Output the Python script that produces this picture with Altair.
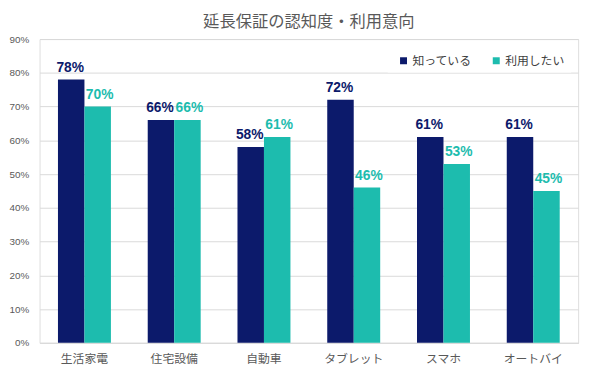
import altair as alt
import pandas as pd

categories = ["生活家電", "住宅設備", "自動車", "タブレット", "スマホ", "オートバイ"]
series = ["知っている", "利用したい"]
known = [78, 66, 58, 72, 61, 61]
want = [70, 66, 61, 46, 53, 45]
colors = ["#0c1a6b", "#1dbcae"]
y_ticks = [0, 10, 20, 30, 40, 50, 60, 70, 80, 90]

rows = []
for i, c in enumerate(categories):
    rows.append({"cat": c, "series": series[0], "value": known[i], "label": f"{known[i]}%"})
    rows.append({"cat": c, "series": series[1], "value": want[i], "label": f"{want[i]}%"})
df = pd.DataFrame(rows)

x = alt.X("cat:N", sort=categories, title=None,
          scale=alt.Scale(paddingInner=0.41, paddingOuter=0.205),
          axis=alt.Axis(labelAngle=0, labelFont="Noto Sans CJK JP", labelFontSize=12,
                        labelColor="#595959", labelPadding=11, ticks=False, domain=True,
                        domainColor="#d9d9d9", grid=False))
y = alt.Y("value:Q", title=None,
          scale=alt.Scale(domain=[0, 90], nice=False),
          axis=alt.Axis(values=y_ticks, labelExpr="datum.value + '%'", labelFont="Liberation Sans",
                        labelFontSize=10, labelColor="#595959", ticks=False, domain=False,
                        labelPadding=11, grid=True, gridColor="#d9d9d9", gridWidth=1))
xo = alt.XOffset("series:N", sort=series, scale=alt.Scale(paddingInner=0, paddingOuter=0))
color = alt.Color("series:N", sort=series, title=None,
                  scale=alt.Scale(domain=series, range=colors),
                  legend=alt.Legend(orient="none", legendX=353, legendY=10, direction="horizontal",
                                    fillColor="white", padding=6, symbolType="square",
                                    symbolSize=50, symbolStrokeWidth=0,
                                    labelFont="Noto Sans CJK JP", labelFontSize=12,
                                    labelColor="#404040", columnPadding=14, symbolOffset=4,
                                    labelOffset=3))

bars = alt.Chart(df).mark_bar().encode(x=x, y=y, xOffset=xo, color=color)
text_base = alt.Chart(df).encode(
    x=x, y=y, xOffset=xo, text="label:N",
    color=alt.Color("series:N", sort=series, scale=alt.Scale(domain=series, range=colors), legend=None))
text_known = text_base.transform_filter(alt.datum.series == series[0]).mark_text(
    dy=-12, dx=-1, font="Liberation Sans", fontWeight="bold", fontSize=14)
text_want = text_base.transform_filter(alt.datum.series == series[1]).mark_text(
    dy=-12, dx=2, font="Liberation Sans", fontWeight="bold", fontSize=14)

chart = (bars + text_known + text_want).properties(
    width=546, height=308,
    title=alt.TitleParams("延長保証の認知度・利用意向", font="Noto Sans CJK JP", fontSize=16.5,
                          fontWeight="normal", color="#595959", anchor="middle", offset=4),
    autosize=alt.AutoSizeParams(type="none"),
    padding={"left": 32, "top": 29, "right": 9, "bottom": 23},
).configure_view(fill="#f2f2f2", stroke=None).configure(background="white")

chart.save("out.html", embed_options={"renderer": "svg", "actions": False})
